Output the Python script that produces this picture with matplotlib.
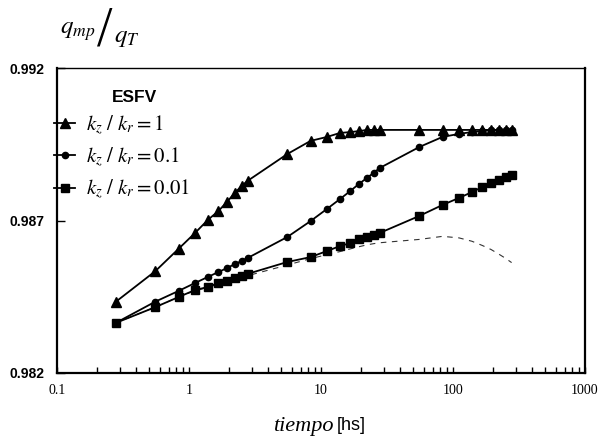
import numpy as np
import matplotlib
matplotlib.use("Agg")
import matplotlib.pyplot as plt
from matplotlib.ticker import FixedLocator, NullFormatter, FixedFormatter

plt.rcParams['mathtext.fontset'] = 'stix'

# ---- data ----
tiempo = [0.278, 0.556, 0.833, 1.11, 1.39, 1.67, 1.94, 2.22, 2.50, 2.78,
          5.56, 8.33, 11.1, 13.9, 16.7, 19.4, 22.2, 25.0, 27.8,
          55.6, 83.3, 111, 139, 167, 194, 222, 250, 278]
q_k1 = [0.98433, 0.98534, 0.98607, 0.98659, 0.98702, 0.98731, 0.98761, 0.98790, 0.98813, 0.98830,
        0.98918, 0.98961, 0.98974, 0.98987, 0.98990, 0.98993, 0.98997, 0.98997, 0.98997,
        0.98997, 0.98997, 0.98997, 0.98997, 0.98997, 0.98997, 0.98997, 0.98997, 0.98997]
q_k01 = [0.98364, 0.98434, 0.98469, 0.98495, 0.98515, 0.98531, 0.98544, 0.98557, 0.98567, 0.98577,
         0.98646, 0.98698, 0.98738, 0.98770, 0.98797, 0.98820, 0.98839, 0.98856, 0.98872,
         0.98941, 0.98974, 0.98984, 0.98990, 0.98993, 0.98997, 0.98997, 0.98997, 0.98997]
q_k001 = [0.98364, 0.98416, 0.98449, 0.98472, 0.98482, 0.98495, 0.98502, 0.98511, 0.98518, 0.98525,
          0.98564, 0.98580, 0.98600, 0.98616, 0.98626, 0.98639, 0.98646, 0.98652, 0.98659,
          0.98715, 0.98751, 0.98774, 0.98793, 0.98810, 0.98823, 0.98833, 0.98843, 0.98849]
q_dash = [0.98364, 0.98416, 0.98449, 0.98470, 0.98480, 0.98492, 0.98499, 0.98507, 0.98513, 0.98519,
          0.98554, 0.98575, 0.98588, 0.98598, 0.98607, 0.98614, 0.98620, 0.98624, 0.98627,
          0.98638, 0.98648, 0.98643, 0.98632, 0.98618, 0.98605, 0.98590, 0.98576, 0.98562]
labels = [r'$k_z\ /\ k_r = 1$', r'$k_z\ /\ k_r = 0.1$', r'$k_z\ /\ k_r = 0.01$']
xticks = [0.1, 1, 10, 100, 1000]
xticklabels = ['0.1', '1', '10', '100', '1000']
yticks = [0.982, 0.987, 0.992]
yticklabels = ['0.982', '0.987', '0.992']

W, H = 598, 438
fig = plt.figure(figsize=(W / 100, H / 100), dpi=100)
ax = fig.add_axes([57 / W, 1 - 373 / H, (585 - 57) / W, (373 - 68) / H])

ax.plot(tiempo, q_dash, color='#333333', lw=0.8, dashes=(5, 5), zorder=1)
l1, = ax.plot(tiempo, q_k1, color='black', lw=1.3, marker='^', ms=7, zorder=3)
l2, = ax.plot(tiempo, q_k01, color='black', lw=1.3, marker='o', ms=4.5, zorder=3)
l3, = ax.plot(tiempo, q_k001, color='black', lw=1.3, marker='s', ms=6, zorder=3)

ax.set_xscale('log')
ax.set_xlim(0.1, 1000)
ax.set_ylim(0.982, 0.992)

ax.xaxis.set_major_locator(FixedLocator(xticks))
ax.xaxis.set_major_formatter(FixedFormatter(xticklabels))
minors = [m * 10.0 ** e for e in range(-1, 3) for m in range(2, 10)]
ax.xaxis.set_minor_locator(FixedLocator(minors))
ax.xaxis.set_minor_formatter(NullFormatter())
ax.yaxis.set_major_locator(FixedLocator(yticks))
ax.yaxis.set_major_formatter(FixedFormatter(yticklabels))
ax.yaxis.set_minor_locator(FixedLocator([]))

ax.tick_params(axis='x', which='both', direction='in', length=4, width=1.0, pad=8,
               top=False)
ax.tick_params(axis='y', which='both', direction='in', length=6, width=1.0, pad=9,
               right=False)
for lab in ax.get_xticklabels():
    lab.set_fontfamily('Liberation Serif')
    lab.set_fontsize(10)
for lab in ax.get_yticklabels():
    lab.set_fontfamily('Liberation Sans')
    lab.set_fontweight('bold')
    lab.set_fontsize(10)

for side in ['left', 'bottom', 'right']:
    ax.spines[side].set_linewidth(1.6)
ax.spines['top'].set_linewidth(1.0)

# legend
leg = ax.legend([l1, l2, l3], labels, loc='upper left',
                bbox_to_anchor=(-0.005, 0.852), frameon=False,
                prop={'size': 15}, handlelength=1.0, handletextpad=0.5,
                labelspacing=0.42, borderpad=0.0, borderaxespad=0.0)
ax.text(112 / W, 1 - 97 / H, 'ESFV', transform=fig.transFigure,
        fontfamily='Liberation Sans', fontweight='bold', fontsize=12.5,
        ha='left', va='center')

# y label (q_mp / q_T)
fig.text(60 / W, 1 - 34 / H, r'$q_{mp}$', fontsize=18, ha='left', va='baseline')
fig.text(105 / W, 1 - 31 / H, '/', fontfamily='Liberation Serif', fontsize=40,
         ha='center', va='center')
fig.text(114 / W, 1 - 42 / H, r'$q_T$', fontsize=18, ha='left', va='baseline')

# x label
fig.text(334 / W, 1 - 426 / H, 'tiempo', fontfamily='Liberation Serif',
         fontstyle='italic', fontsize=16, ha='right', va='center')
fig.text(337 / W, 1 - 426 / H, '[hs]', fontfamily='Liberation Sans',
         fontsize=13, ha='left', va='center')

fig.savefig('out.png', dpi=100)
